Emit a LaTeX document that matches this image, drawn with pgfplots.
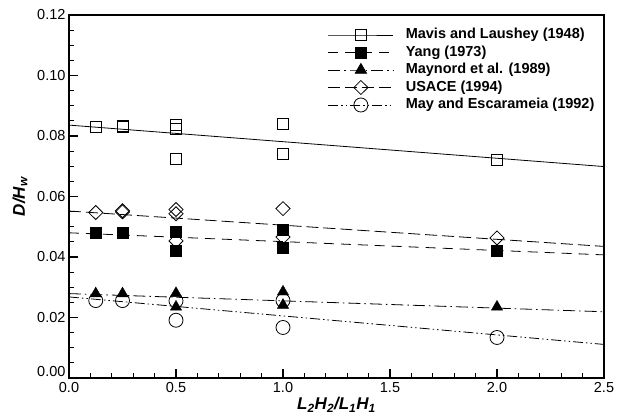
\documentclass[border=0pt]{standalone}
\usepackage{fontspec}
\setmainfont{Liberation Sans}
\usepackage{pgfplots}
\pgfplotsset{compat=1.18}
\begin{document}
\begin{tikzpicture}
\useasboundingbox (-69pt,-40pt) rectangle (555pt,378pt);
\begin{axis}[
  scale only axis, width=535pt, height=363pt,
  xmin=0, xmax=2.5, ymin=0, ymax=0.12,
  xtick={0,0.5,1,1.5,2,2.5},
  ytick={0,0.02,0.04,0.06,0.08,0.10,0.12},
  yticklabels={\raisebox{6pt}[\height][\depth]{0.00},0.02,0.04,0.06,0.08,0.10,0.12},
  minor x tick num=4, minor y tick num=3,
  tick align=inside, tick pos=left,
  major tick length=9pt, minor tick length=5pt,
  every major tick/.append style={line width=1.4pt, black},
  every minor tick/.append style={line width=0.8pt, black},
  axis line style={line width=1.6pt},
  ticklabel style={font=\fontsize{14.5}{16}\selectfont},
  xticklabel style={yshift=-1pt, /pgf/number format/.cd, fixed, fixed zerofill, precision=1, assume math mode=true},
  xlabel={\bfseries\itshape L\textsubscript{2}H\textsubscript{2}/L\textsubscript{1}H\textsubscript{1}},
  ylabel={\bfseries\itshape D/H\textsubscript{w}},
  label style={font=\fontsize{17}{19}\selectfont},
  xlabel style={at={([yshift=-27pt]axis description cs:0.5,0)}, anchor=center},
  ylabel style={at={([xshift=-49pt]axis description cs:0,0.5)}, anchor=center},
  legend style={at={(axis description cs:0.4841,0.969)}, anchor=north west,
    draw=none, fill=none, inner sep=0pt, outer sep=0pt,
    font=\bfseries\fontsize{14.5}{16}\selectfont,
    row sep=0pt, column sep=10.5pt,
    nodes={inner sep=1.5pt, text height=11pt, text depth=3.5pt}},
  legend cell align=left,
  legend image code/.code={\draw[mark repeat=2, mark phase=2] plot coordinates {(0pt,0pt) (32.5pt,0pt) (65pt,0pt)};},
]
% legend images
\addlegendimage{black, line width=0.8pt, solid, mark=square, mark size=5.5pt, mark options={solid, line width=0.8pt}}
\addlegendentry{Mavis and Laushey (1948)}
\addlegendimage{black, line width=0.8pt, dash pattern=on 10pt off 7pt, mark=square*, mark size=5.5pt, mark options={solid, fill=black}}
\addlegendentry{Yang (1973)}
\addlegendimage{black, line width=0.8pt, dash pattern=on 12pt off 4pt on 1.5pt off 4pt, mark=triangle*, mark size=6.5pt, mark options={solid, fill=black}}
\addlegendentry{Maynord et al. (1989)}
\addlegendimage{black, line width=0.8pt, dash pattern=on 12pt off 5pt, mark=diamond, mark size=7pt, mark options={solid, line width=0.8pt, xscale=1.35}}
\addlegendentry{USACE (1994)}
\addlegendimage{black, line width=0.8pt, dash pattern=on 10pt off 3pt on 1.5pt off 3pt on 1.5pt off 3pt, mark=o, mark size=7pt, mark options={solid, line width=0.8pt}}
\addlegendentry{May and Escarameia (1992)}

% fit lines
\addplot[forget plot, black, line width=0.8pt, solid] coordinates {(0,0.0836) (2.5,0.0699)};
\addplot[forget plot, black, line width=0.8pt, dash pattern=on 10pt off 7pt] coordinates {(0,0.0480) (2.5,0.0407)};
\addplot[forget plot, black, line width=0.8pt, dash pattern=on 12pt off 5pt] coordinates {(0,0.0552) (2.5,0.0435)};
\addplot[forget plot, black, line width=0.8pt, dash pattern=on 12pt off 4pt on 1.5pt off 4pt] coordinates {(0,0.0279) (2.5,0.0219)};
\addplot[forget plot, black, line width=0.8pt, dash pattern=on 10pt off 3pt on 1.5pt off 3pt on 1.5pt off 3pt] coordinates {(0,0.0268) (2.5,0.0111)};

% data points
\addplot[forget plot, only marks, black, mark=square, mark size=5.5pt, mark options={line width=0.8pt}] coordinates {
(0.125,0.0831) (0.25,0.0831) (0.25,0.0834) (0.5,0.0836) (0.5,0.0824) (0.5,0.0724) (1.0,0.0840) (1.0,0.0741) (2.0,0.0722)};
\addplot[forget plot, only marks, black, mark=square*, mark size=5.5pt, mark options={fill=black}] coordinates {
(0.125,0.0479) (0.25,0.0480) (0.5,0.0485) (0.5,0.0421) (1.0,0.0490) (1.0,0.0431) (2.0,0.0421)};
\addplot[forget plot, only marks, black, mark=diamond, mark size=7pt, mark options={line width=0.8pt, xscale=1.35}] coordinates {
(0.125,0.0547) (0.25,0.0549) (0.25,0.0553) (0.5,0.0557) (0.5,0.0543) (0.5,0.0453) (1.0,0.0560) (1.0,0.0466) (2.0,0.0463)};
\addplot[forget plot, only marks, black, mark=triangle*, mark size=6.5pt, mark options={fill=black}] coordinates {
(0.125,0.0279) (0.25,0.0279) (0.5,0.0280) (0.5,0.0235) (1.0,0.0285) (1.0,0.0241) (2.0,0.0235)};
\addplot[forget plot, only marks, black, mark=o, mark size=7pt, mark options={line width=0.8pt}] coordinates {
(0.125,0.0256) (0.25,0.0256) (0.5,0.0255) (0.5,0.0191) (1.0,0.0256) (1.0,0.0167) (2.0,0.0134)};
\end{axis}
\end{tikzpicture}
\end{document}
